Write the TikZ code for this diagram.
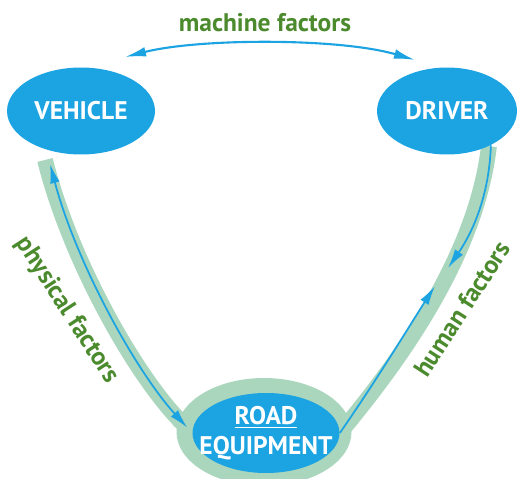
\documentclass[tikz,border=0pt]{standalone}
\usepackage{fontspec}
\setmainfont{PT Sans}
\usetikzlibrary{shapes.geometric,arrows.meta,backgrounds}
\definecolor{eblue}{RGB}{28,163,226}
\definecolor{eband}{RGB}{170,214,190}
\definecolor{egreen}{RGB}{76,138,46}
\begin{document}
\begin{tikzpicture}[x=0.02cm,y=-0.02cm,
    box/.style={ellipse,fill=eblue,text=white,inner sep=0pt,align=center,font=\bfseries\fontsize{14.5}{16}\selectfont},
    lab/.style={text=egreen,inner sep=0pt,font=\bfseries\fontsize{14.5}{17}\selectfont},
    band/.style={draw=eband,line width=9pt,-{Round Cap[]}},
    link/.style={draw=eblue,line width=1pt,>={Latex[length=11pt,width=5.5pt]}}]
              \useasboundingbox (0,0) rectangle (517,479);
              \node[ellipse,fill=eband,minimum width=3.5cm,minimum height=2.16cm](rh)at(264,432){};
              \node[box,inner xsep=-9pt,minimum width=2.94cm,minimum height=1.6cm](r)at(266,433){\underline{ROAD}\\[1pt]EQUIPMENT};
              \node[box,minimum width=2.96cm,minimum height=1.74cm](v)at(81,111){VEHICLE};
              \node[box,minimum width=2.8cm,minimum height=1.74cm](d)at(447,111){DRIVER};
              \coordinate(vb)at(45,160);
              \coordinate(pa)at(50,164);
              \coordinate(ha)at(448,268);
              \coordinate(hb)at(435,286);
              \coordinate(ta)at(125,57);
              \coordinate(tb)at(415,60);
              \begin{scope}[on background layer]
              \draw[band](vb)..controls(70,260)and(135,375)..(r.west);
              \draw[band](d.-40)..controls(478,240)and(420,335)..(r.east);
              \end{scope}
              \draw[link,<->,shorten >=4pt](pa)..controls(76,262)and(135,370)..(r.west);
              \draw[link,->](d.-38)..controls(489,200)and(470,236)..(ha);
              \draw[link,->](r.east)..controls(380,375)and(410,325)..(hb);
              \draw[link,<->,line width=1.2pt,>={Latex[length=12pt,width=5.5pt]}](ta)..controls(200,38)and(340,38)..(tb);
              \node[lab](mf)at(265,23){machine factors};
              \node[lab,rotate=-57](pf)at(67,310){physical factors};
              \node[lab,rotate=57](hu)at(462,309){human factors};
            \end{tikzpicture}
\end{document}
